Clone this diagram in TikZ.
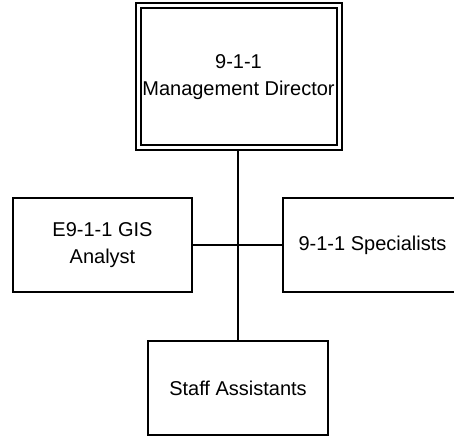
\documentclass[tikz,border=0pt]{standalone}
\usepackage{fontspec}
\setmainfont{Liberation Sans}
\begin{document}
\begin{tikzpicture}[x=1pt, y=-1pt,
  orgbox/.style={draw, line width=2pt, rectangle, align=center, inner sep=0pt,
    minimum width=179pt, minimum height=94pt,
    font=\fontsize{20}{27}\selectfont},
  headbox/.style={orgbox, double, double distance=3pt,
    minimum width=201pt, minimum height=142.5pt},
  link/.style={line width=2pt}]
  \fill[white] (0,0) rectangle (454,438);
  \useasboundingbox (0,0) rectangle (454,438);

  % director at the top, three units below
  \node[headbox] (dir) at (238.5,76.75) {9-1-1\\Management Director};
  \node[orgbox] (gis) at (102.5,245) {E9-1-1 GIS\\Analyst};
  \node[orgbox] (spec) at (372.5,245) {9-1-1 Specialists};
  \node[orgbox, minimum width=180pt] (staff) at (238,388) {Staff Assistants};

  % reporting lines; the vertical one starts below the outer border line
  \coordinate (dirfoot) at ([yshift=-2.5pt]dir.south);
  \draw[link] (dirfoot -| staff.north) -- (staff.north);
  \draw[link] (gis.east) -- (spec.west);
\end{tikzpicture}
\end{document}
